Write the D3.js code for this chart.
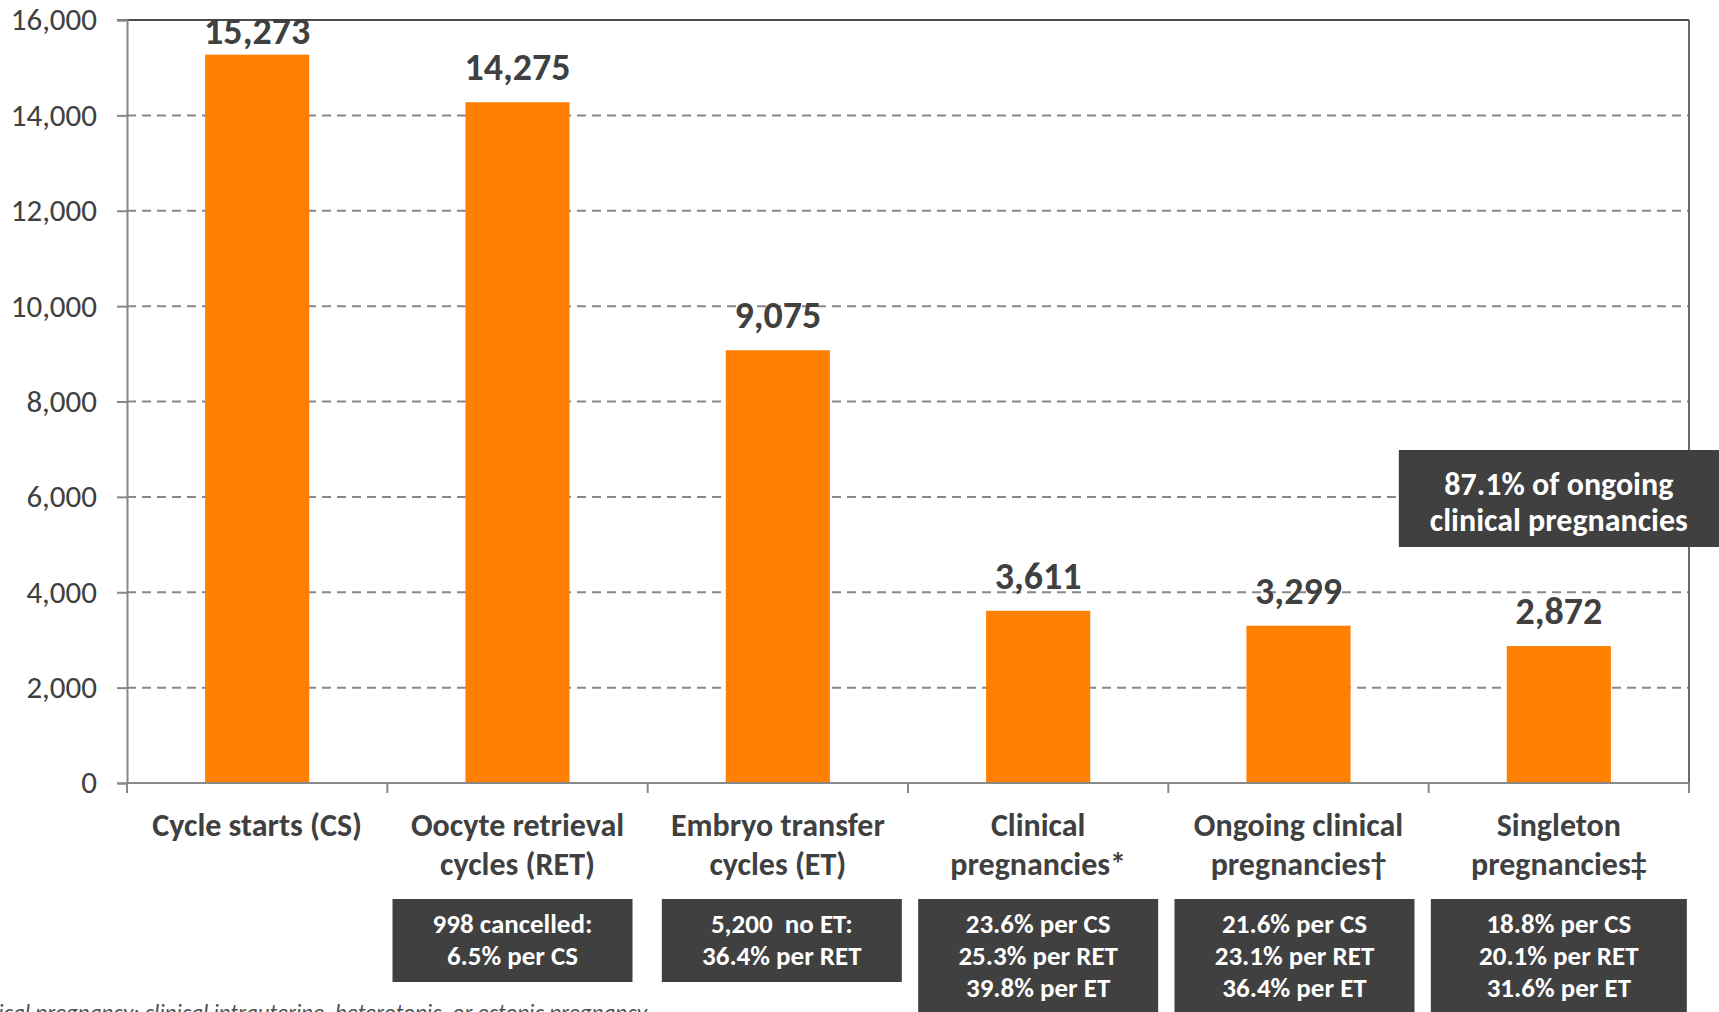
<!DOCTYPE html>
<html>
<head>
<meta charset="utf-8">
<script src="https://cdn.jsdelivr.net/npm/d3@7"></script>
<style>
  html, body { margin: 0; padding: 0; background: #fff; overflow: hidden; }
  svg { display: block; font-family: Carlito, Calibri, Lato, sans-serif; }
  text { white-space: pre; }
</style>
</head>
<body>
<svg id="chart" width="1719" height="1012"></svg>
<script>
// ---- data ----
const categories = [
  ["Cycle starts (CS)"],
  ["Oocyte retrieval", "cycles (RET)"],
  ["Embryo transfer", "cycles (ET)"],
  ["Clinical", "pregnancies*"],
  ["Ongoing clinical", "pregnancies\u2020"],
  ["Singleton", "pregnancies\u2021"]
];
const values = [15273, 14275, 9075, 3611, 3299, 2872];
const yTicks = [0, 2000, 4000, 6000, 8000, 10000, 12000, 14000, 16000];
const boxCategoryIndex = [1, 2, 3, 4, 5];
const boxLines = [
  ["998 cancelled:", "6.5% per CS"],
  ["5,200  no ET:", "36.4% per RET"],
  ["23.6% per CS", "25.3% per RET", "39.8% per ET"],
  ["21.6% per CS", "23.1% per RET", "36.4% per ET"],
  ["18.8% per CS", "20.1% per RET", "31.6% per ET"]
];
const calloutIndex = 5;
const calloutLines = ["87.1% of ongoing", "clinical pregnancies"];
const footnote = "*Clinical pregnancy: clinical intrauterine, heterotopic, or ectopic pregnancy";

// ---- layout ----
const X0 = 127, X1 = 1689, YTOP = 20, YBOT = 783;
const textCol = "#404040", gridCol = "#888888", barCol = "#FF7F00", boxCol = "#404040";
const svg = d3.select("#chart");

const x = d3.scaleBand().domain(d3.range(categories.length)).range([X0, X1])
  .paddingInner(0.6).paddingOuter(0.3);
const step = x.step();
const y = d3.scaleLinear().domain([0, 16000]).range([YBOT, YTOP]);

// gridlines (dashed), except top which is the frame
svg.append("g").selectAll("line").data(yTicks.filter(t => t > 0 && t < 16000)).join("line")
  .attr("x1", X0).attr("x2", X1).attr("y1", d => y(d)).attr("y2", d => y(d))
  .attr("stroke", gridCol).attr("stroke-width", 2).attr("stroke-dasharray", "9,6");

// frame top & right
svg.append("line").attr("x1", X0 - 10).attr("x2", X1).attr("y1", y(16000)).attr("y2", y(16000))
  .attr("stroke", "#4a4a4a").attr("stroke-width", 2);
svg.append("line").attr("x1", X1).attr("x2", X1).attr("y1", y(16000)).attr("y2", YBOT)
  .attr("stroke", "#6a6a6a").attr("stroke-width", 2);

// bars
svg.append("g").selectAll("rect").data(values).join("rect")
  .attr("x", (d, i) => x(i)).attr("width", x.bandwidth())
  .attr("y", d => y(d)).attr("height", d => YBOT - y(d))
  .attr("fill", barCol);

// y axis
const yAxis = d3.axisLeft(y).tickValues(yTicks).tickSize(10).tickPadding(20)
  .tickFormat(d3.format(","));
const gy = svg.append("g").attr("transform", `translate(${X0},0)`).call(yAxis);
gy.select(".domain").attr("stroke", gridCol).attr("stroke-width", 2);
gy.selectAll(".tick line").attr("stroke", gridCol).attr("stroke-width", 2);
gy.selectAll(".tick text").attr("fill", textCol).attr("font-size", 31)
  .attr("font-family", "Carlito, Calibri, Lato, sans-serif");

// x axis line and boundary ticks
svg.append("line").attr("x1", X0).attr("x2", X1).attr("y1", YBOT).attr("y2", YBOT)
  .attr("stroke", gridCol).attr("stroke-width", 2);
svg.append("g").selectAll("line").data(d3.range(categories.length + 1)).join("line")
  .attr("x1", i => X0 + i * step).attr("x2", i => X0 + i * step)
  .attr("y1", YBOT).attr("y2", YBOT + 10)
  .attr("stroke", gridCol).attr("stroke-width", 2);

// x labels
const cx = i => x(i) + x.bandwidth() / 2;
const xl = svg.append("g").selectAll("text").data(categories).join("text")
  .attr("x", (d, i) => cx(i)).attr("y", 836)
  .attr("text-anchor", "middle").attr("fill", textCol)
  .attr("font-size", 32).attr("font-weight", "bold");
xl.selectAll("tspan").data((d, i) => d.map(s => ({ s, i }))).join("tspan")
  .attr("x", d => cx(d.i)).attr("dy", (d, j) => j === 0 ? 0 : 39).text(d => d.s);

// value labels
svg.append("g").selectAll("text").data(values).join("text")
  .attr("x", (d, i) => cx(i)).attr("y", d => Math.max(y(d) - 22, 44))
  .attr("text-anchor", "middle").attr("fill", textCol)
  .attr("font-size", 38).attr("font-weight", "bold")
  .text(d => d3.format(",")(d));

// info boxes under categories
const boxTop = 899;
const boxShift = [-5, 4, 0, -4, 0];
const bx = k => cx(boxCategoryIndex[k]) + boxShift[k];
const bw = k => k === boxLines.length - 1 ? 256 : 240;
const bg = svg.append("g").selectAll("g").data(boxLines).join("g");
bg.append("rect")
  .attr("x", (d, k) => bx(k) - bw(k) / 2)
  .attr("width", (d, k) => bw(k))
  .attr("y", boxTop).attr("height", d => d.length === 2 ? 83 : 130)
  .attr("fill", boxCol);
bg.append("text").attr("text-anchor", "middle").attr("fill", "#fff")
  .attr("font-size", 27).attr("font-weight", "bold")
  .selectAll("tspan").data((d, k) => d.map(s => ({ s, k }))).join("tspan")
  .attr("x", d => bx(d.k))
  .attr("y", (d, j) => boxTop + 34 + j * 32).text(d => d.s);

// callout box
const cc = cx(calloutIndex);
svg.append("rect").attr("x", cc - 160).attr("y", 450).attr("width", 330).attr("height", 97)
  .attr("fill", boxCol);
svg.append("text").attr("text-anchor", "middle").attr("fill", "#fff")
  .attr("font-size", 32).attr("font-weight", "bold")
  .selectAll("tspan").data(calloutLines).join("tspan")
  .attr("x", cc).attr("y", (d, j) => 495 + j * 36).text(d => d);

// footnote (clipped at page edges, as in the original)
svg.append("text").attr("x", 647).attr("y", 1020).attr("text-anchor", "end")
  .attr("fill", "#505050").attr("font-size", 23).attr("font-style", "italic")
  .text(footnote);
</script>
</body>
</html>
